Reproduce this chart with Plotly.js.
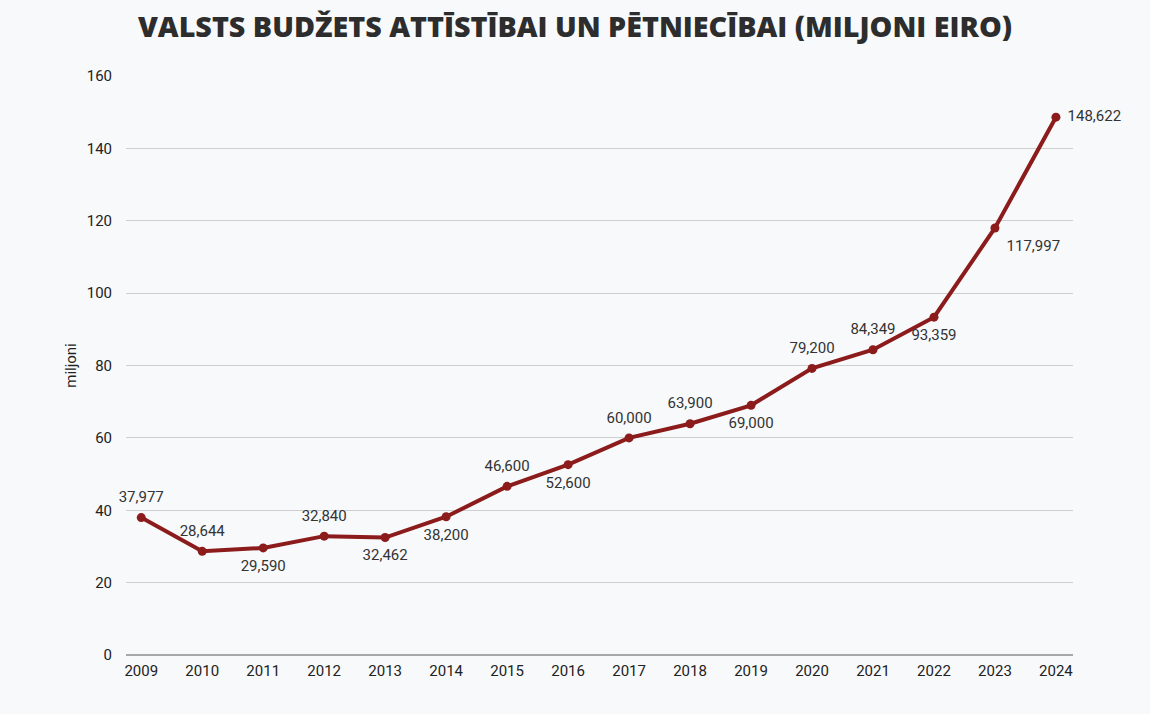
<!DOCTYPE html>
<html>
<head>
<meta charset="utf-8">
<script src="https://cdn.plot.ly/plotly-3.0.1.min.js"></script>
<style>html,body{margin:0;padding:0;background:#f8f9fb;}#chart{width:1150px;height:714px;}</style>
</head>
<body>
<div id="chart"></div>
<script>
const years = ['2009','2010','2011','2012','2013','2014','2015','2016','2017','2018','2019','2020','2021','2022','2023','2024'];
const values = [37.977, 28.644, 29.590, 32.840, 32.462, 38.200, 46.600, 52.600, 60.000, 63.900, 69.000, 79.200, 84.349, 93.359, 117.997, 148.622];
const labels = ['37,977','28,644','29,590','32,840','32,462','38,200','46,600','52,600','60,000','63,900','69,000','79,200','84,349','93,359','117,997','148,622'];
const labelPos = ['top center','top center','bottom center','top center','bottom center','bottom center','top center','bottom center','top center','top center','bottom center','top center','top center','bottom center','bottom right','middle right'];
const yTicks = [0,20,40,60,80,100,120,140,160];

const lineTrace = {
  x: years, y: values,
  type: 'scatter', mode: 'lines+markers',
  line: {color: '#8c1b1b', width: 4},
  marker: {color: '#8c1b1b', size: 9},
  hoverinfo: 'skip'
};
const labelTrace = {
  x: years, y: values, text: labels,
  type: 'scatter', mode: 'markers+text',
  textposition: labelPos,
  textfont: {family: 'Roboto', size: 15, color: '#333333'},
  marker: {color: 'rgba(0,0,0,0)', size: 17},
  cliponaxis: false,
  hoverinfo: 'skip'
};

const layout = {
  width: 1150, height: 714,
  paper_bgcolor: '#f8f9fb', plot_bgcolor: '#f8f9fb',
  margin: {l: 126, r: 77, t: 76, b: 59},
  title: {text: 'VALSTS BUDŽETS ATTĪSTĪBAI UN PĒTNIECĪBAI (MILJONI EIRO)',
    font: {family: 'Open Sans', size: 28.7, weight: 800, color: '#2d2d2d'},
    x: 0.5, xanchor: 'center', yref: 'container', y: 0.962, yanchor: 'middle'},
  showlegend: false,
  xaxis: {type: 'category', range: [-0.25, 15.28], showgrid: false, zeroline: false,
    showline: false, ticks: 'outside', ticklen: 2, tickcolor: 'rgba(0,0,0,0)',
    tickfont: {family: 'Roboto', size: 15, color: '#222'}},
  yaxis: {range: [0, 160], tickvals: yTicks, showgrid: true, gridcolor: '#cfcfcf', gridwidth: 1,
    zeroline: true, zerolinecolor: '#a8a8a8', zerolinewidth: 1.5,
    ticks: 'outside', ticklen: 10, tickcolor: 'rgba(0,0,0,0)',
    tickfont: {family: 'Roboto', size: 15, color: '#222'},
    title: {text: 'miljoni', font: {family: 'Roboto', size: 15, color: '#222'}, standoff: 6}}
};
Plotly.newPlot('chart', [lineTrace, labelTrace], layout, {displayModeBar: false, staticPlot: true});
</script>
</body>
</html>
